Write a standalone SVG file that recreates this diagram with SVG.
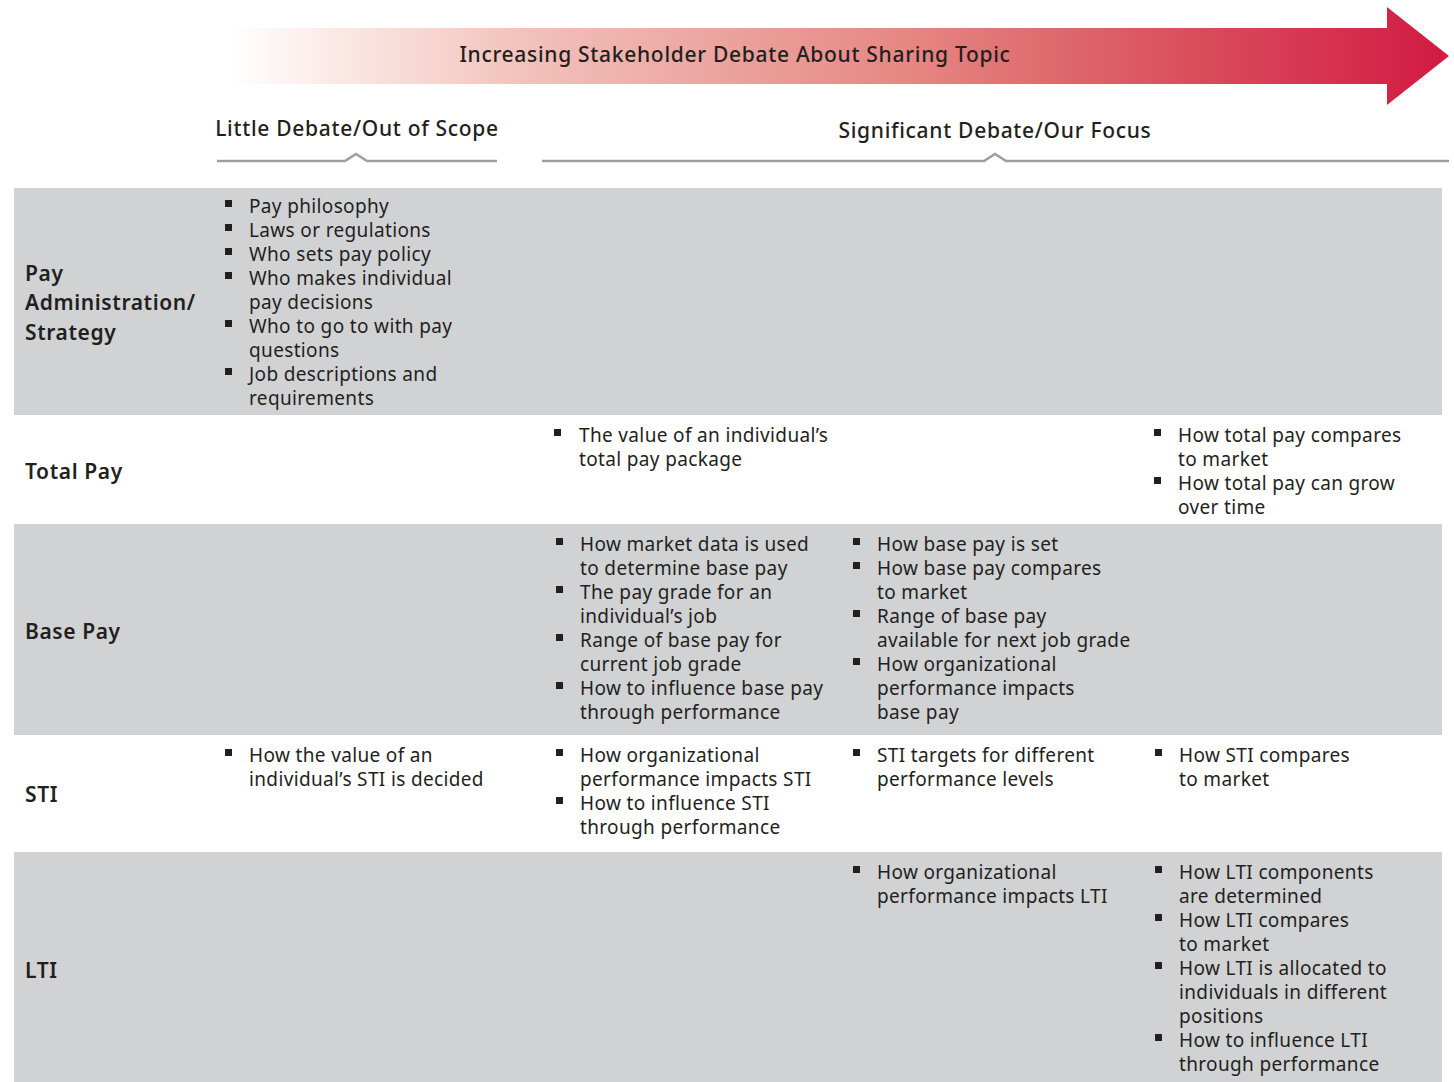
<svg xmlns="http://www.w3.org/2000/svg" width="1454" height="1082" viewBox="0 0 1454 1082">
<defs>
<linearGradient id="arrowGrad" gradientUnits="userSpaceOnUse" x1="230" y1="0" x2="1449" y2="0">
<stop offset="0" stop-color="#ffffff"/>
<stop offset="0.06" stop-color="#fdf0ed"/>
<stop offset="0.24" stop-color="#f2c2bb"/>
<stop offset="0.55" stop-color="#e68884"/>
<stop offset="0.72" stop-color="#dc5f66"/>
<stop offset="1" stop-color="#d21a42"/>
</linearGradient>
<style>
.t{font-family:"Noto Sans","Liberation Sans",sans-serif;font-size:19px;letter-spacing:0.35px;fill:#231f20}
.h{font-family:"Noto Sans","Liberation Sans",sans-serif;font-size:21px;font-weight:500;letter-spacing:0.7px;fill:#231f20}
.lab{font-family:"Noto Sans","Liberation Sans",sans-serif;font-size:21px;font-weight:600;letter-spacing:0.6px;fill:#231f20}
.band{fill:#d1d2d4}
.sep{fill:none;stroke:#9d9ea1;stroke-width:2.5}
.b{fill:#231f20}
</style>
</defs>
<g id="arrow">
<path d="M230,28 H1387 V7 L1449,56 L1387,105 V84 H230 Z" fill="url(#arrowGrad)"/>
<text class="h" x="735" y="62" text-anchor="middle">Increasing Stakeholder Debate About Sharing Topic</text>
</g>
<g id="header-left">
<text class="h" x="357" y="136" text-anchor="middle">Little Debate/Out of Scope</text>
<path class="sep" d="M217,161 H345 L356,154 L367,161 H497"/>
</g>
<g id="header-right">
<text class="h" x="995" y="138" text-anchor="middle">Significant Debate/Our Focus</text>
<path class="sep" d="M542,161 H984 L995,154 L1006,161 H1449"/>
</g>
<g id="bands">
<rect class="band" x="14" y="188" width="1428" height="227"/>
<rect class="band" x="14" y="524" width="1428" height="211"/>
<rect class="band" x="14" y="852" width="1428" height="230"/>
</g>
<g id="row-pay-admin">
<text class="lab" x="25" y="281">Pay</text>
<text class="lab" x="25" y="310">Administration/</text>
<text class="lab" x="25" y="340">Strategy</text>
<rect class="b" x="225" y="200" width="7" height="7"/>
<rect class="b" x="225" y="224" width="7" height="7"/>
<rect class="b" x="225" y="248" width="7" height="7"/>
<rect class="b" x="225" y="272" width="7" height="7"/>
<rect class="b" x="225" y="320" width="7" height="7"/>
<rect class="b" x="225" y="368" width="7" height="7"/>
<text class="t" x="249" y="213">Pay philosophy</text>
<text class="t" x="249" y="237">Laws or regulations</text>
<text class="t" x="249" y="261">Who sets pay policy</text>
<text class="t" x="249" y="285">Who makes individual</text>
<text class="t" x="249" y="309">pay decisions</text>
<text class="t" x="249" y="333">Who to go to with pay</text>
<text class="t" x="249" y="357">questions</text>
<text class="t" x="249" y="381">Job descriptions and</text>
<text class="t" x="249" y="405">requirements</text>
</g>
<g id="row-total-pay">
<text class="lab" x="25" y="479">Total Pay</text>
<rect class="b" x="554" y="429" width="7" height="7"/>
<text class="t" x="579" y="442">The value of an individual’s</text>
<text class="t" x="579" y="466">total pay package</text>
<rect class="b" x="1154" y="429" width="7" height="7"/>
<rect class="b" x="1154" y="477" width="7" height="7"/>
<text class="t" x="1178" y="442">How total pay compares</text>
<text class="t" x="1178" y="466">to market</text>
<text class="t" x="1178" y="490">How total pay can grow</text>
<text class="t" x="1178" y="514">over time</text>
</g>
<g id="row-base-pay">
<text class="lab" x="25" y="639">Base Pay</text>
<rect class="b" x="556" y="538" width="7" height="7"/>
<rect class="b" x="556" y="586" width="7" height="7"/>
<rect class="b" x="556" y="634" width="7" height="7"/>
<rect class="b" x="556" y="682" width="7" height="7"/>
<text class="t" x="580" y="551">How market data is used</text>
<text class="t" x="580" y="575">to determine base pay</text>
<text class="t" x="580" y="599">The pay grade for an</text>
<text class="t" x="580" y="623">individual’s job</text>
<text class="t" x="580" y="647">Range of base pay for</text>
<text class="t" x="580" y="671">current job grade</text>
<text class="t" x="580" y="695">How to influence base pay</text>
<text class="t" x="580" y="719">through performance</text>
<rect class="b" x="853" y="538" width="7" height="7"/>
<rect class="b" x="853" y="562" width="7" height="7"/>
<rect class="b" x="853" y="610" width="7" height="7"/>
<rect class="b" x="853" y="658" width="7" height="7"/>
<text class="t" x="877" y="551">How base pay is set</text>
<text class="t" x="877" y="575">How base pay compares</text>
<text class="t" x="877" y="599">to market</text>
<text class="t" x="877" y="623">Range of base pay</text>
<text class="t" x="877" y="647">available for next job grade</text>
<text class="t" x="877" y="671">How organizational</text>
<text class="t" x="877" y="695">performance impacts</text>
<text class="t" x="877" y="719">base pay</text>
</g>
<g id="row-sti">
<text class="lab" x="25" y="802">STI</text>
<rect class="b" x="225" y="749" width="7" height="7"/>
<text class="t" x="249" y="762">How the value of an</text>
<text class="t" x="249" y="786">individual’s STI is decided</text>
<rect class="b" x="556" y="749" width="7" height="7"/>
<rect class="b" x="556" y="797" width="7" height="7"/>
<text class="t" x="580" y="762">How organizational</text>
<text class="t" x="580" y="786">performance impacts STI</text>
<text class="t" x="580" y="810">How to influence STI</text>
<text class="t" x="580" y="834">through performance</text>
<rect class="b" x="853" y="749" width="7" height="7"/>
<text class="t" x="877" y="762">STI targets for different</text>
<text class="t" x="877" y="786">performance levels</text>
<rect class="b" x="1155" y="749" width="7" height="7"/>
<text class="t" x="1179" y="762">How STI compares</text>
<text class="t" x="1179" y="786">to market</text>
</g>
<g id="row-lti">
<text class="lab" x="25" y="978">LTI</text>
<rect class="b" x="853" y="866" width="7" height="7"/>
<text class="t" x="877" y="879">How organizational</text>
<text class="t" x="877" y="903">performance impacts LTI</text>
<rect class="b" x="1155" y="866" width="7" height="7"/>
<rect class="b" x="1155" y="914" width="7" height="7"/>
<rect class="b" x="1155" y="962" width="7" height="7"/>
<rect class="b" x="1155" y="1034" width="7" height="7"/>
<text class="t" x="1179" y="879">How LTI components</text>
<text class="t" x="1179" y="903">are determined</text>
<text class="t" x="1179" y="927">How LTI compares</text>
<text class="t" x="1179" y="951">to market</text>
<text class="t" x="1179" y="975">How LTI is allocated to</text>
<text class="t" x="1179" y="999">individuals in different</text>
<text class="t" x="1179" y="1023">positions</text>
<text class="t" x="1179" y="1047">How to influence LTI</text>
<text class="t" x="1179" y="1071">through performance</text>
</g>
</svg>
